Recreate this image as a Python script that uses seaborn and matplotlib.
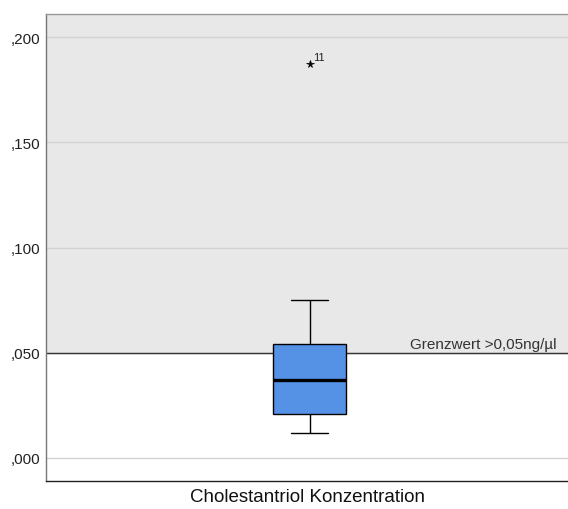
import matplotlib
matplotlib.use("Agg")
import matplotlib.pyplot as plt
import numpy as np
import pandas as pd
import seaborn as sns
from matplotlib.ticker import FuncFormatter

# Cholestantriol concentration per case (ng/µl), case 11 is the extreme value
case_ids = list(range(1, 13))
concentrations = [0.035, 0.0213, 0.052, 0.012, 0.0608, 0.039,
                  0.016, 0.075, 0.030, 0.045, 0.187, 0.020]
threshold = 0.05
threshold_label = "Grenzwert >0,05ng/µl"
x_label = "Cholestantriol Konzentration"
y_ticks = [0.0, 0.05, 0.10, 0.15, 0.20]

df = pd.DataFrame({"case": case_ids, "value": concentrations})

sns.set_style("white")
plt.rcParams["font.family"] = ["Liberation Sans", "DejaVu Sans"]

fig = plt.figure(figsize=(5.68, 5.1), dpi=100)
ax = fig.add_axes([46 / 568, 28 / 510, 1 - 46 / 568, 467 / 510])

y_min, y_max = -0.011, 0.211
ax.axhspan(threshold, y_max, color="#e8e8e8", zorder=0)
for t in y_ticks:
    ax.axhline(t, color="#d2d2d2", lw=1, zorder=0.5)
ax.axhline(threshold, color="#333333", lw=1, zorder=1)

sns.boxplot(
    data=df, y="value", ax=ax, width=0.14, color="#5592e6", saturation=1,
    linewidth=1, linecolor="black",
    medianprops=dict(color="black", linewidth=2.4),
    flierprops=dict(marker="*", markerfacecolor="black", markeredgecolor="black",
                    markersize=5.5, markeredgewidth=0.5),
    zorder=2,
)

# label extreme values with their case number
q1, q3 = np.percentile(df["value"], [25, 75])
iqr = q3 - q1
extremes = df[df["value"] > q3 + 3 * iqr]
for _, row in extremes.iterrows():
    ax.annotate(str(int(row["case"])), (0, row["value"]), xytext=(2.5, 3),
                textcoords="offset points", fontsize=8, color="#222222")

ax.text(0.473, threshold + 0.0008, threshold_label, ha="right", va="bottom",
        fontsize=11, color="#333333")

ax.set_ylim(y_min, y_max)
ax.set_xlim(-0.505, 0.495)
ax.set_yticks(y_ticks)
ax.yaxis.set_major_formatter(FuncFormatter(lambda v, p: f"{v:.3f}"[1:].replace(".", ",")))
ax.tick_params(axis="y", length=0, labelsize=11, colors="#222222", pad=4)
ax.set_xticks([])
ax.set_ylabel("")
ax.set_xlabel(x_label, fontsize=13.5, color="#111111", labelpad=5)

ax.spines["right"].set_visible(False)
ax.spines["top"].set_color("#999999")
ax.spines["left"].set_color("#777777")
ax.spines["bottom"].set_color("#222222")
for s in ax.spines.values():
    s.set_linewidth(1)

fig.savefig("out.png", dpi=100)
